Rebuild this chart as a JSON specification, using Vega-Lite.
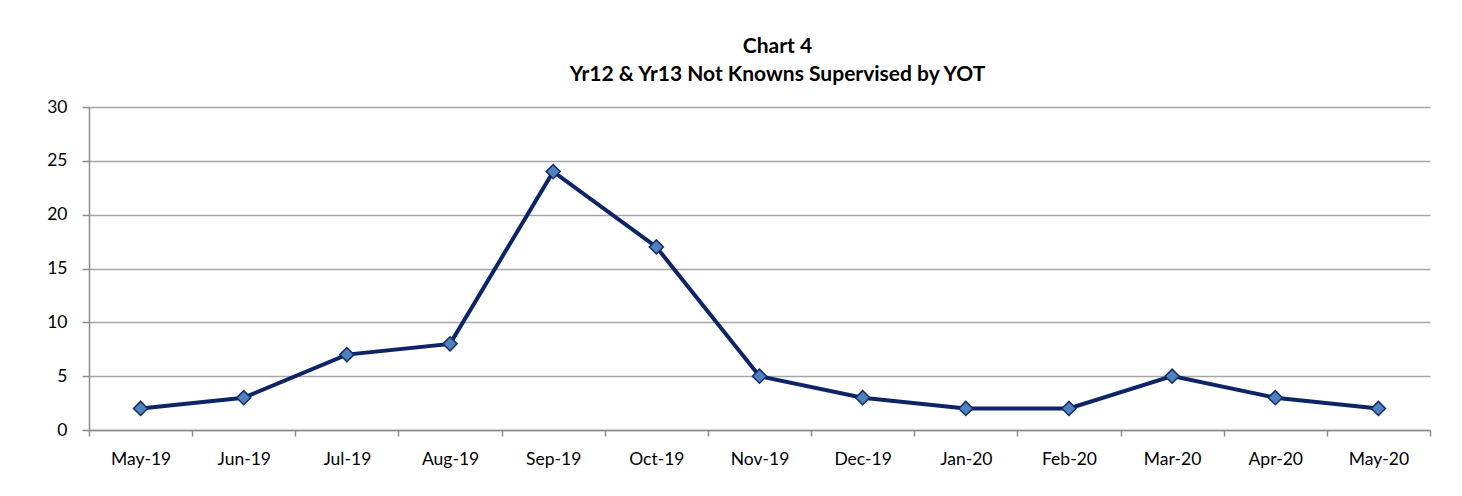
{
  "$schema": "https://vega.github.io/schema/vega-lite/v6.json",
  "autosize": {"type": "none"},
  "width": 1341,
  "height": 323,
  "padding": {"left": 89, "top": 107, "right": 32, "bottom": 66},
  "background": "white",
  "title": {
    "text": ["Chart 4", "Yr12 & Yr13 Not Knowns Supervised by YOT"],
    "font": "Lato",
    "fontSize": 21,
    "fontWeight": "bold",
    "color": "#000000",
    "lineHeight": 28,
    "anchor": "middle",
    "dx": 18,
    "offset": 13
  },
  "data": {
    "values": [
      {"month": "May-19", "value": 2},
      {"month": "Jun-19", "value": 3},
      {"month": "Jul-19", "value": 7},
      {"month": "Aug-19", "value": 8},
      {"month": "Sep-19", "value": 24},
      {"month": "Oct-19", "value": 17},
      {"month": "Nov-19", "value": 5},
      {"month": "Dec-19", "value": 3},
      {"month": "Jan-20", "value": 2},
      {"month": "Feb-20", "value": 2},
      {"month": "Mar-20", "value": 5},
      {"month": "Apr-20", "value": 3},
      {"month": "May-20", "value": 2}
    ]
  },
  "config": {
    "view": {"stroke": null},
    "axis": {
      "labelFont": "Lato",
      "labelFontSize": 17.5,
      "labelColor": "#000000",
      "domainColor": "#8c8c8c",
      "domainWidth": 1.5,
      "tickColor": "#8c8c8c",
      "tickWidth": 1.5,
      "gridColor": "#a6a6a6",
      "gridWidth": 1.5,
      "title": null
    }
  },
  "encoding": {
    "x": {
      "field": "month",
      "type": "ordinal",
      "sort": null,
      "scale": {"type": "band", "paddingInner": 0, "paddingOuter": 0},
      "axis": {"labelAngle": 0, "tickBand": "extent", "tickSize": 6, "labelPadding": 14, "grid": false}
    },
    "y": {
      "field": "value",
      "type": "quantitative",
      "scale": {"domain": [0, 30]},
      "axis": {"values": [0, 5, 10, 15, 20, 25, 30], "grid": true, "tickSize": 7, "labelPadding": 15}
    }
  },
  "layer": [
    {"mark": {"type": "line", "color": "#0d2466", "strokeWidth": 4}},
    {"mark": {"type": "point", "shape": "diamond", "filled": true, "fill": "#4f81bd", "stroke": "#132d68", "strokeWidth": 1.5, "size": 200, "opacity": 1}}
  ]
}
